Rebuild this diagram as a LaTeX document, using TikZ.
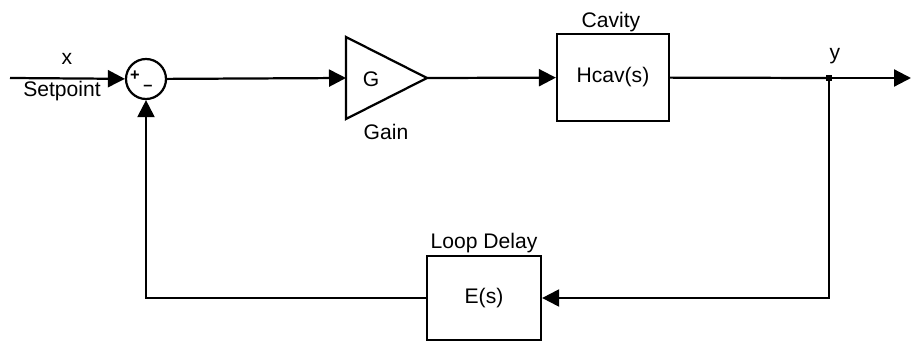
\documentclass[tikz,border=0pt]{standalone}
\usepackage{fontspec}
\setmainfont{Liberation Sans}
\usepackage{tikz}
\usetikzlibrary{arrows.meta,positioning,calc}
\tikzset{
  >={Triangle[length=5.1mm,width=5.1mm]},
  wire/.style={line width=1.9pt,color=black},
  flow/.style={->,wire},
  block/.style={draw,line width=1.9pt,fill=white,inner sep=0pt,font=\fontsize{18}{21}\selectfont},
  sumnode/.style={circle,draw,line width=1.9pt,minimum size=12mm,inner sep=0pt},
  tapnode/.style={rectangle,fill=black,minimum size=1.7mm,inner sep=0pt},
  lbl/.style={inner sep=0pt,font=\fontsize{18}{21}\selectfont},
  sign/.style={inner sep=0pt,font=\bfseries\fontsize{14}{16}\selectfont},
}

\begin{document}
\begin{tikzpicture}[x=0.3mm,y=-0.3mm]
  \useasboundingbox (0,0) rectangle (920,341);
  % forward path
  \coordinate (in) at (10,78);
  \node[sumnode] (sum) at (146,79) {};
  \node[sign] (plus) at (135,76) {+};
  \node[sign] (minus) at (148,88) {--};
  \coordinate (gain in) at (346,78);
  \coordinate (gain out) at (427,78);
  \draw[wire,line join=miter] (346,37) -- (gain out) -- (346,119) -- cycle;
  \node[lbl] (gain) at (371,79) {G};
  \node[block,minimum width=33.6mm,minimum height=26.1mm] (cavity) at (613,77.5) {Hcav(s)};
  \node[tapnode] (tap) at (829,78) {};
  \coordinate (out) at (911,78);
  % feedback path
  \node[block,minimum width=34.2mm,minimum height=25.2mm] (delay) at (484,298) {E(s)};

  % labels
  \node[lbl] (xlbl) at (67,59) {x};
  \node[lbl] (setlbl) at (62,91) {Setpoint};
  \node[lbl] (gainlbl) at (386,132) {Gain};
  \node[lbl] (cavlbl) at (611,22) {Cavity};
  \node[lbl] (ylbl) at (835,56) {y};
  \node[lbl] (dellbl) at (484,243) {Loop Delay};

  % connectors
  \draw[flow] (in) -- (sum);
  \draw[flow] (sum) -- (gain in);
  \draw[flow] (gain out) -- (cavity);
  \draw[wire] (cavity) -- (tap);
  \draw[flow] (tap) -- (out);
  \draw[flow] (tap) |- (delay);
  \draw[flow] (delay) -| (sum);
\end{tikzpicture}
\end{document}
